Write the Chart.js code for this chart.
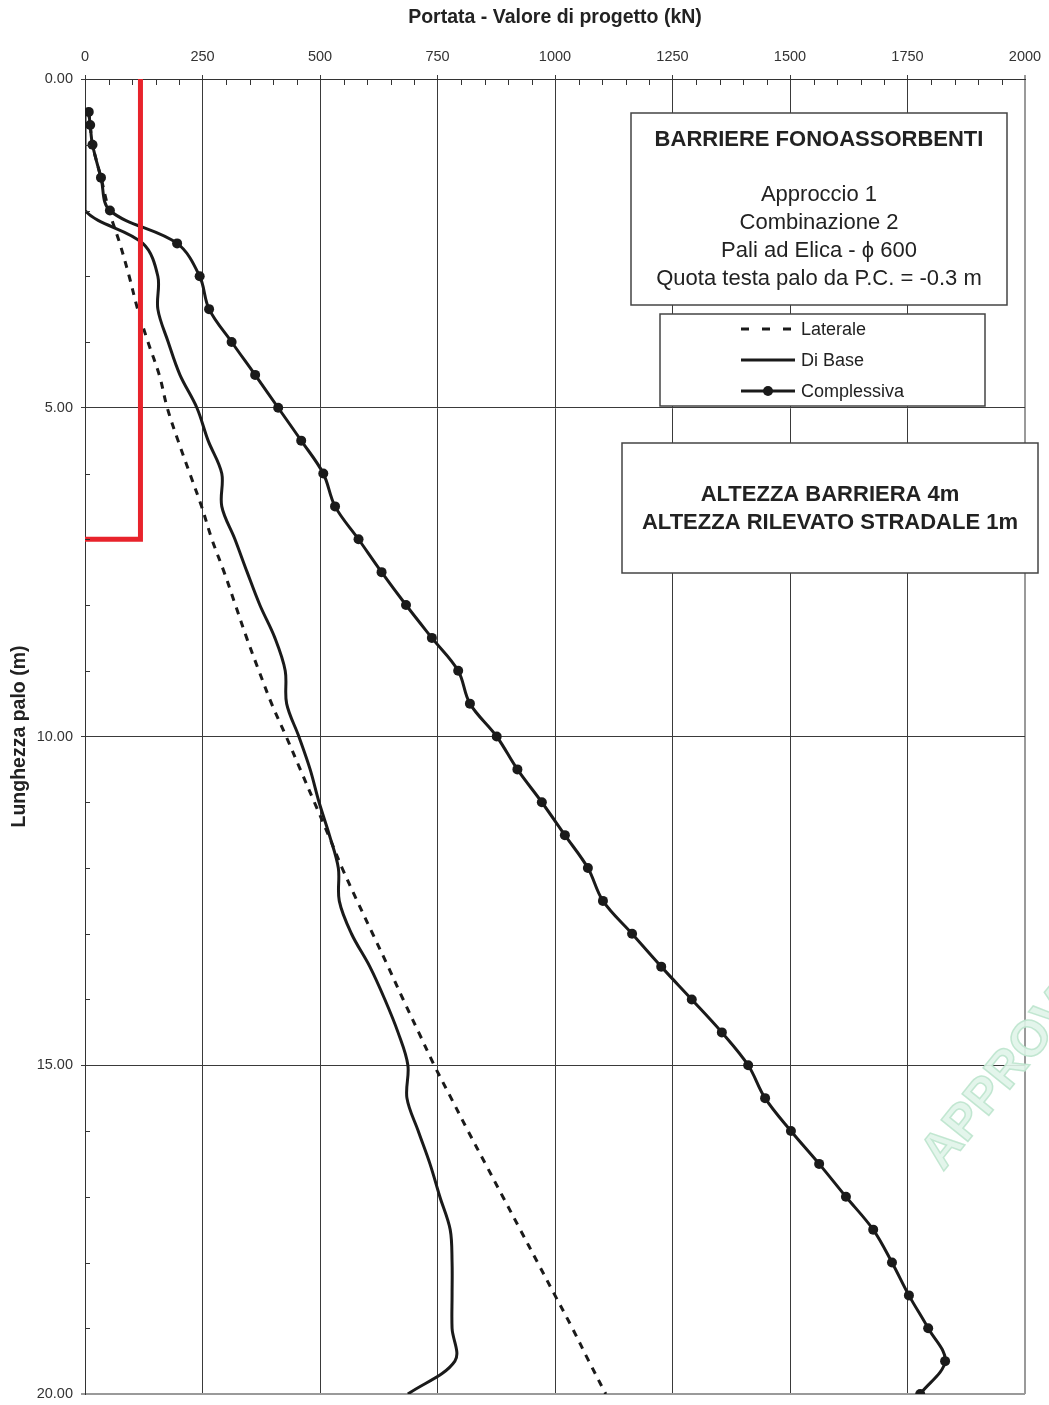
<!doctype html>
<html>
<head>
<meta charset="utf-8">
<title>Portata - Valore di progetto</title>
<script src="https://cdn.jsdelivr.net/npm/chart.js"></script>
<style>
body { margin: 0; background: #fff; }
#box { width: 1049px; height: 1405px; }
</style>
</head>
<body>
<div id="box"><canvas id="canvas1"></canvas></div>
<script>
// profondita (m)
var depths = [0.5, 0.7, 1.0, 1.5, 2.0, 2.5, 3.0, 3.5, 4.0, 4.5, 5.0, 5.5, 6.0, 6.5, 7.0, 7.5, 8.0, 8.5, 9.0, 9.5,
              10.0, 10.5, 11.0, 11.5, 12.0, 12.5, 13.0, 13.5, 14.0, 14.5, 15.0, 15.5, 16.0, 16.5, 17.0, 17.5, 18.0, 18.5, 19.0, 19.5, 20.0];
// portata laterale (kN)
var laterale = [8, 11, 16, 34, 51, 74, 94, 112, 134, 158, 175, 198, 223, 248, 270, 296, 320, 344, 370, 397,
                428, 458, 488, 518, 547, 579, 612, 645, 677, 710, 743, 779, 815, 852, 889, 926, 963, 1000, 1037, 1072, 1108];
// portata di base (kN)
var diBase = [0, 0, 0, 0, 0, 123, 155, 155, 177, 202, 238, 262, 291, 291, 319, 345, 372, 404, 426, 429,
              455, 479, 498, 520, 539, 541, 567, 606, 638, 666, 687, 685, 709, 734, 755, 777, 781, 781, 781, 787, 687];
// portata complessiva (kN)
var complessiva = [8, 11, 16, 34, 53, 196, 244, 264, 312, 362, 411, 460, 507, 532, 582, 631, 683, 738, 794, 819,
                   876, 920, 972, 1021, 1070, 1102, 1164, 1226, 1291, 1355, 1411, 1447, 1502, 1562, 1619, 1677, 1717, 1753, 1794, 1830, 1777];
// linea rossa
var rossoX = [118, 118, 0];
var rossoY = [0, 7, 7];

var xTicks = [0, 250, 500, 750, 1000, 1250, 1500, 1750, 2000];
var yTicks = [0, 5, 10, 15, 20];

var legendNames = ['Laterale', 'Di Base', 'Complessiva'];
var box1Lines = ['Approccio 1', 'Combinazione 2', 'Pali ad Elica - \u03d5 600', 'Quota testa palo da P.C. = -0.3 m'];

function toPoints(xs, ys) {
    return xs.map(function(v, i) { return {x: v, y: ys[i]}; });
}

var FONT = 'Liberation Sans, Arial, sans-serif';
Chart.defaults.font.family = FONT;
Chart.defaults.color = '#333';

var extras = {
    id: 'extras',
    beforeDatasetsDraw: function(chart) {
        var ctx = chart.ctx;
        // filigrana
        ctx.save();
        ctx.translate(943, 1172);
        ctx.rotate(-51 * Math.PI / 180);
        ctx.font = 'bold 50px ' + FONT;
        ctx.fillStyle = 'rgba(224,244,233,0.9)';
        ctx.strokeStyle = 'rgba(188,228,205,0.9)';
        ctx.lineWidth = 1.5;
        ctx.fillText('APPROVATO', 0, 0);
        ctx.strokeText('APPROVATO', 0, 0);
        ctx.restore();
    },
    afterDraw: function(chart) {
        var ctx = chart.ctx, xs = chart.scales.x, ys = chart.scales.y, a = chart.chartArea;
        ctx.save();
        // tacche secondarie
        ctx.strokeStyle = '#333';
        ctx.lineWidth = 1;
        for (var v = 50; v < 2000; v += 50) {
            if (v % 250 === 0) continue;
            var px = Math.round(xs.getPixelForValue(v)) + 0.5;
            ctx.beginPath(); ctx.moveTo(px, a.top); ctx.lineTo(px, a.top + 6); ctx.stroke();
        }
        for (var d = 1; d < 20; d++) {
            if (d % 5 === 0) continue;
            var py = Math.round(ys.getPixelForValue(d)) + 0.5;
            ctx.beginPath(); ctx.moveTo(a.left, py); ctx.lineTo(a.left + 5, py); ctx.stroke();
        }

        ctx.fillStyle = '#fff';
        ctx.strokeStyle = '#444';
        ctx.lineWidth = 1.5;
        // riquadro 1
        ctx.fillRect(631, 113, 376, 192);
        ctx.strokeRect(631, 113, 376, 192);
        ctx.fillStyle = '#222';
        ctx.textAlign = 'center';
        ctx.textBaseline = 'middle';
        ctx.font = 'bold 22px ' + FONT;
        ctx.fillText('BARRIERE FONOASSORBENTI', 819, 140);
        ctx.font = '22px ' + FONT;
        var ly = [195, 223, 251, 279];
        box1Lines.forEach(function(t, i) { ctx.fillText(t, 819, ly[i]); });

        // legenda
        ctx.fillStyle = '#fff';
        ctx.fillRect(660, 314, 325, 92);
        ctx.strokeRect(660, 314, 325, 92);
        var rows = [329, 360, 391];
        ctx.strokeStyle = '#1a1a1a';
        ctx.lineWidth = 3;
        ctx.setLineDash([8, 13]);
        ctx.beginPath(); ctx.moveTo(741, rows[0]); ctx.lineTo(795, rows[0]); ctx.stroke();
        ctx.setLineDash([]);
        ctx.beginPath(); ctx.moveTo(741, rows[1]); ctx.lineTo(795, rows[1]); ctx.stroke();
        ctx.beginPath(); ctx.moveTo(741, rows[2]); ctx.lineTo(795, rows[2]); ctx.stroke();
        ctx.fillStyle = '#1a1a1a';
        ctx.beginPath(); ctx.arc(768, rows[2], 5, 0, Math.PI * 2); ctx.fill();
        ctx.fillStyle = '#222';
        ctx.textAlign = 'left';
        ctx.font = '18px ' + FONT;
        legendNames.forEach(function(t, i) { ctx.fillText(t, 801, rows[i] + 1); });

        // riquadro 2
        ctx.fillStyle = '#fff';
        ctx.strokeStyle = '#444';
        ctx.lineWidth = 1.5;
        ctx.fillRect(622, 443, 416, 130);
        ctx.strokeRect(622, 443, 416, 130);
        ctx.fillStyle = '#222';
        ctx.textAlign = 'center';
        ctx.font = 'bold 22px ' + FONT;
        ctx.fillText('ALTEZZA BARRIERA 4m', 830, 495);
        ctx.fillText('ALTEZZA RILEVATO STRADALE 1m', 830, 523);
        ctx.restore();
    }
};

window.onload = function() {
    var ctx1 = document.getElementById('canvas1').getContext('2d');
    window.myChart = new Chart(ctx1, {
        type: 'scatter',
        data: {
            datasets: [
                {
                    label: 'Limite',
                    data: toPoints(rossoX, rossoY),
                    showLine: true,
                    borderColor: '#e8232b',
                    borderWidth: 5,
                    pointRadius: 0,
                    tension: 0
                },
                {
                    label: legendNames[0],
                    data: toPoints(laterale, depths),
                    showLine: true,
                    borderColor: '#1a1a1a',
                    borderWidth: 3,
                    borderDash: [7, 7],
                    pointRadius: 0,
                    tension: 0.35
                },
                {
                    label: legendNames[1],
                    data: toPoints(diBase, depths),
                    showLine: true,
                    borderColor: '#1a1a1a',
                    borderWidth: 3,
                    pointRadius: 0,
                    tension: 0.35
                },
                {
                    label: legendNames[2],
                    data: toPoints(complessiva, depths),
                    showLine: true,
                    borderColor: '#1a1a1a',
                    borderWidth: 3,
                    pointRadius: 5,
                    pointBackgroundColor: '#1a1a1a',
                    pointBorderWidth: 0,
                    tension: 0.35
                }
            ]
        },
        options: {
            responsive: true,
            maintainAspectRatio: false,
            animation: false,
            layout: { padding: { left: 0, top: 0, right: 24, bottom: 11 } },
            plugins: {
                legend: { display: false },
                tooltip: { enabled: false }
            },
            scales: {
                x: {
                    type: 'linear',
                    position: 'top',
                    min: 0,
                    max: 2000,
                    afterBuildTicks: function(s) { s.ticks = xTicks.map(function(v) { return {value: v}; }); },
                    afterFit: function(s) { s.height = 79; s.paddingLeft = 0; s.paddingRight = 0; },
                    ticks: {
                        font: { size: 14.5 },
                        color: '#333',
                        padding: 9,
                        callback: function(v) { return String(v); }
                    },
                    grid: {
                        color: function(c) { return c.tick && c.tick.value === 2000 ? '#9a9a9a' : '#3a3a3a'; },
                        lineWidth: function(c) { return c.tick && c.tick.value === 2000 ? 2 : 1; },
                        tickLength: 4
                    },
                    border: { color: '#333', width: 1 },
                    title: {
                        display: true,
                        text: 'Portata - Valore di progetto (kN)',
                        font: { size: 19.5, weight: 'bold' },
                        color: '#222',
                        padding: { top: 6, bottom: 0 }
                    }
                },
                y: {
                    type: 'linear',
                    reverse: true,
                    min: 0,
                    max: 20,
                    afterBuildTicks: function(s) { s.ticks = yTicks.map(function(v) { return {value: v}; }); },
                    afterFit: function(s) { s.width = 85; s.paddingTop = 0; s.paddingBottom = 0; },
                    ticks: {
                        font: { size: 14.5 },
                        color: '#333',
                        padding: 8,
                        callback: function(v) { return v.toFixed(2); }
                    },
                    grid: {
                        color: function(c) { return c.tick && c.tick.value === 20 ? '#9a9a9a' : '#3a3a3a'; },
                        lineWidth: function(c) { return c.tick && c.tick.value === 20 ? 2 : 1; },
                        tickLength: 4
                    },
                    border: { color: '#333', width: 1 },
                    title: {
                        display: true,
                        text: 'Lunghezza palo (m)',
                        font: { size: 19.5, weight: 'bold' },
                        color: '#222',
                        padding: { top: 8, bottom: 0 }
                    }
                }
            }
        },
        plugins: [extras]
    });
};
</script>
</body>
</html>
